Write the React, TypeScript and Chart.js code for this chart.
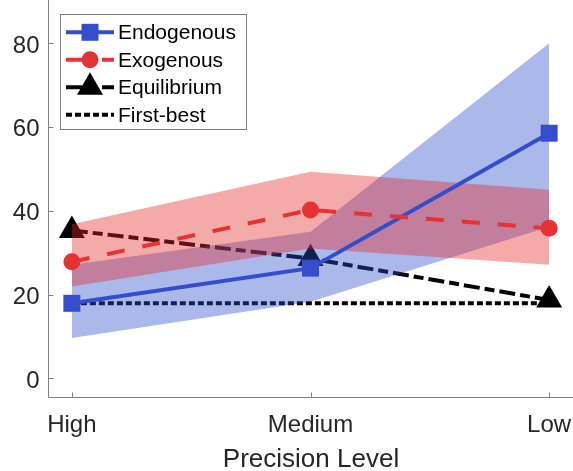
import React, { useEffect, useRef } from "react";
import { Chart, registerables } from "chart.js";

Chart.register(...registerables);

// ---- data ----
const categories = ["High", "Medium", "Low"];
const xPositions = [1, 2, 3];
const endogenous = [17.9, 26.3, 58.5];
const endogenousLower = [9.6, 18.3, 36.2];
const endogenousUpper = [27.1, 35.0, 80.0];
const exogenous = [27.8, 40.2, 35.8];
const exogenousLower = [21.9, 31.0, 27.1];
const exogenousUpper = [36.8, 49.3, 45.0];
const equilibrium = [35.3, 28.6, 18.7];
const firstBest = [17.9, 17.9, 17.9];
const yTicks = [0, 20, 40, 60, 80];
const seriesNames = ["Endogenous", "Exogenous", "Equilibrium", "First-best"];
const xTitle = "Precision Level";

// ---- styles ----
const FONT = "'Liberation Sans', Arial, Helvetica, sans-serif";
const BLUE = "rgb(51,77,204)";
const RED = "rgb(230,50,50)";
const BLUE_BAND = "rgba(45,77,202,0.4)";
const RED_BAND = "rgba(230,42,42,0.4)";
const TEXT = "#262626";
const AXIS = "#808080";

const toPts = (arr: number[]) => arr.map((v, i) => ({ x: xPositions[i], y: v }));

function drawMarker(ctx: CanvasRenderingContext2D, style: string, r: number, x: number, y: number, color: string) {
  ctx.save();
  ctx.setLineDash([]);
  ctx.fillStyle = color;
  ctx.beginPath();
  if (style === "rect") {
    const s = Math.SQRT1_2 * r;
    ctx.rect(x - s, y - s, 2 * s, 2 * s);
  } else if (style === "circle") {
    ctx.arc(x, y, r, 0, Math.PI * 2);
  } else if (style === "triangle") {
    const w = r * Math.sin(Math.PI / 3);
    ctx.moveTo(x, y - r);
    ctx.lineTo(x + w, y + r / 2);
    ctx.lineTo(x - w, y + r / 2);
    ctx.closePath();
  }
  ctx.fill();
  ctx.restore();
}

const matlabPlugin = {
  id: "matlabDecor",
  afterDraw(chart: any) {
    const { ctx, chartArea, scales } = chart;
    const xs = scales.x;
    const ys = scales.y;
    ctx.save();
    // axes lines with inward ticks
    ctx.strokeStyle = AXIS;
    ctx.lineWidth = 1;
    ctx.setLineDash([]);
    const left = Math.round(chartArea.left) + 0.5;
    const bottom = Math.round(chartArea.bottom) - 0.5;
    ctx.beginPath();
    ctx.moveTo(left, chartArea.top);
    ctx.lineTo(left, bottom);
    ctx.lineTo(chartArea.right, bottom);
    ys.ticks.forEach((t: any) => {
      const y = Math.round(ys.getPixelForValue(t.value)) + 0.5;
      ctx.moveTo(left, y);
      ctx.lineTo(left + 5, y);
    });
    xs.ticks.forEach((t: any) => {
      const x = Math.round(xs.getPixelForValue(t.value)) + 0.5;
      ctx.moveTo(x, bottom);
      ctx.lineTo(x, bottom - 5);
    });
    ctx.stroke();

    // tick labels (from the scales' ticks)
    ctx.fillStyle = TEXT;
    ctx.font = `24px ${FONT}`;
    ctx.textBaseline = "alphabetic";
    ctx.textAlign = "right";
    ys.ticks.forEach((t: any) => {
      const y = ys.getPixelForValue(t.value);
      ctx.fillText(String(t.value), chartArea.left - 8.5, y + 9.5);
    });
    ctx.textAlign = "center";
    xs.ticks.forEach((t: any) => {
      const x = xs.getPixelForValue(t.value);
      const idx = xPositions.indexOf(t.value);
      ctx.fillText(idx >= 0 ? categories[idx] : "", x, chartArea.bottom + 34);
    });
    // axis title
    ctx.font = `26px ${FONT}`;
    ctx.fillText(xTitle, (chartArea.left + chartArea.right) / 2 + 0.5, chartArea.bottom + 68.5);

    // legend
    const bx = 60.5, by = 14.5, bw = 186, bh = 115;
    ctx.fillStyle = "#ffffff";
    ctx.fillRect(bx, by, bw, bh);
    ctx.strokeStyle = AXIS;
    ctx.strokeRect(bx, by, bw, bh);
    const ds = chart.data.datasets;
    for (let i = 0; i < seriesNames.length; i++) {
      const d = ds[i];
      const cy = 32.3 + i * 27.5;
      ctx.save();
      ctx.strokeStyle = d.borderColor;
      ctx.lineWidth = d.borderWidth;
      ctx.setLineDash(d.borderDash || []);
      ctx.lineDashOffset = 0;
      ctx.beginPath();
      ctx.moveTo(66, cy);
      ctx.lineTo(114, cy);
      ctx.stroke();
      ctx.restore();
      if (d.pointRadius > 0) {
        drawMarker(ctx, d.pointStyle, d.pointRadius, 90, cy, d.backgroundColor);
      }
      ctx.fillStyle = "#000000";
      ctx.font = `21px ${FONT}`;
      ctx.textAlign = "left";
      ctx.textBaseline = "alphabetic";
      ctx.fillText(seriesNames[i], 118, cy + 6.9);
    }
    ctx.restore();
  },
};

export default function App() {
  const ref = useRef<HTMLCanvasElement>(null);

  useEffect(() => {
    if (!ref.current) return;
    const chart = new Chart(ref.current, {
      type: "line",
      data: {
        datasets: [
          {
            label: seriesNames[0],
            data: toPts(endogenous),
            borderColor: BLUE,
            backgroundColor: BLUE,
            borderWidth: 4,
            pointStyle: "rect",
            pointRadius: 12,
            pointBorderWidth: 0,
            fill: false,
            order: 1,
          },
          {
            label: seriesNames[1],
            data: toPts(exogenous),
            borderColor: RED,
            backgroundColor: RED,
            borderWidth: 4,
            borderDash: [18, 18],
            pointStyle: "circle",
            pointRadius: 8.5,
            pointBorderWidth: 0,
            fill: false,
            order: 0,
          },
          {
            label: seriesNames[2],
            data: toPts(equilibrium),
            borderColor: "#000000",
            backgroundColor: "#000000",
            borderWidth: 4,
            borderDash: [16, 5, 10, 5],
            pointStyle: "triangle",
            pointRadius: 15,
            pointBorderWidth: 0,
            fill: false,
            order: 6,
          },
          {
            label: seriesNames[3],
            data: toPts(firstBest),
            borderColor: "#000000",
            backgroundColor: "#000000",
            borderWidth: 4,
            borderDash: [6, 3],
            pointRadius: 0,
            fill: false,
            order: 7,
          },
          {
            label: "endoLower",
            data: toPts(endogenousLower),
            borderColor: "transparent",
            borderWidth: 0,
            pointRadius: 0,
            fill: false,
            order: 5,
          },
          {
            label: "endoUpper",
            data: toPts(endogenousUpper),
            borderColor: "transparent",
            backgroundColor: BLUE_BAND,
            borderWidth: 0,
            pointRadius: 0,
            fill: 4,
            order: 5,
          },
          {
            label: "exoLower",
            data: toPts(exogenousLower),
            borderColor: "transparent",
            borderWidth: 0,
            pointRadius: 0,
            fill: false,
            order: 4,
          },
          {
            label: "exoUpper",
            data: toPts(exogenousUpper),
            borderColor: "transparent",
            backgroundColor: RED_BAND,
            borderWidth: 0,
            pointRadius: 0,
            fill: 6,
            order: 4,
          },
        ],
      },
      options: {
        animation: false,
        responsive: false,
        events: [],
        layout: { padding: 0, autoPadding: false },
        elements: { line: { tension: 0 } },
        plugins: {
          legend: { display: false },
          tooltip: { enabled: false },
          filler: { propagate: false },
        },
        scales: {
          x: {
            type: "linear",
            min: 0.9,
            max: 3.1,
            grid: { display: false, drawTicks: false },
            border: { display: false },
            afterBuildTicks: (s: any) => {
              s.ticks = xPositions.map((v) => ({ value: v }));
            },
            ticks: { display: false },
            title: { display: false },
            afterFit: (s: any) => {
              s.height = 73;
              s.paddingLeft = 0;
              s.paddingRight = 0;
            },
          },
          y: {
            type: "linear",
            min: -4.7,
            max: 90.3,
            grid: { display: false, drawTicks: false },
            border: { display: false },
            afterBuildTicks: (s: any) => {
              s.ticks = yTicks.map((v) => ({ value: v }));
            },
            ticks: { display: false },
            afterFit: (s: any) => {
              s.width = 48;
              s.paddingTop = 0;
              s.paddingBottom = 0;
            },
          },
        },
      } as any,
      plugins: [matlabPlugin],
    });
    return () => chart.destroy();
  }, []);

  return (
    <div style={{ position: "fixed", left: 0, top: 0, width: 573, height: 471, background: "#ffffff" }}>
      <canvas ref={ref} width={573} height={471} style={{ display: "block" }} />
    </div>
  );
}
